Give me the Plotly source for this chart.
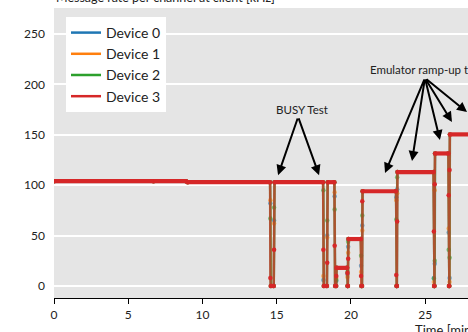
import plotly.graph_objects as go

# ---- data (minutes, kHz) ----
time_min = [0, 6.7, 8.9, 9.0,
            14.55, 14.57, 14.6, 14.8, 14.82, 14.85,
            18.12, 18.14, 18.17, 18.38, 18.40, 18.43,
            18.88, 18.90, 18.93, 19.00, 19.01, 19.03,
            19.74, 19.76, 19.77, 19.79, 19.81, 19.83,
            20.66, 20.68, 20.70, 20.74, 20.76, 20.78,
            23.03, 23.05, 23.07, 23.09, 23.11, 23.13,
            25.56, 25.58, 25.60, 25.62, 25.64, 25.66,
            26.56, 26.58, 26.60, 26.62, 26.64, 26.66,
            28.5]

device0 = [104, 104, 104, 103,
           103, 82, 0, 0, 65, 103,
           103, 6, 0, 0, 50, 103,
           103, 89, 0, 0, 5, 18,
           18, 12, 0, 0, 39, 46.6,
           46.6, 20, 0, 0, 60, 94,
           94, 88, 0, 0, 96, 113,
           113, 8, 0, 0, 22, 131.5,
           131.5, 53, 0, 0, 8, 150.4,
           150.4]
device1 = [104, 104, 104, 103,
           103, 85, 0, 0, 62, 103,
           103, 10, 0, 0, 48, 103,
           103, 93, 0, 0, 8, 18,
           18, 9, 0, 0, 33, 46.6,
           46.6, 14, 0, 0, 55, 94,
           94, 85, 0, 0, 92, 113,
           113, 4, 0, 0, 95, 131.5,
           131.5, 57, 0, 0, 4, 150.4,
           150.4]
device2 = [104, 104, 104, 103,
           103, 67, 0, 0, 78, 103,
           103, 95, 0, 0, 65, 103,
           103, 76, 0, 0, 6, 18,
           18, 14, 0, 0, 44, 46.6,
           46.6, 30, 0, 0, 70, 94,
           94, 66, 0, 0, 108, 113,
           113, 7.5, 0, 0, 25, 131.5,
           131.5, 36, 0, 0, 28, 150.4,
           150.4]
device3 = [104, 104, 104, 103,
           103, 8, 0, 0, 36, 103,
           103, 36, 0, 0, 23, 103,
           103, 40, 0, 0, 10, 18,
           18, 13, 0, 0, 27, 46.6,
           46.6, 10, 0, 0, 84, 94,
           94, 11, 0, 0, 64, 113,
           113, 54, 0, 0, 101, 131.5,
           131.5, 90, 0, 0, 115, 150.4,
           150.4]

device_names = ["Device 0", "Device 1", "Device 2", "Device 3"]
device_values = [device0, device1, device2, device3]
colors = [(31, 119, 180), (255, 127, 14), (44, 160, 44), (214, 39, 40)]

x_ticks = [0, 5, 10, 15, 20, 25]
y_ticks = [0, 50, 100, 150, 200, 250]

fig = go.Figure()

for name, vals, (r, g, b) in zip(device_names, device_values, colors):
    is_top = name == "Device 3"
    fig.add_trace(go.Scatter(
        x=time_min, y=vals, mode="lines+markers", showlegend=False,
        line=dict(color=f"rgba({r},{g},{b},0.62)", width=2.4),
        marker=dict(size=4.5, color=f"rgba({r},{g},{b},{1.0 if is_top else 0.6})",
                    line=dict(width=0)),
        hoverinfo="skip"))

# plateau band of top series (consecutive equal samples)
px, py = [], []
for i in range(len(time_min) - 1):
    if abs(device3[i + 1] - device3[i]) <= 2:
        px += [time_min[i], time_min[i + 1], None]
        py += [device3[i], device3[i + 1], None]
fig.add_trace(go.Scatter(x=px, y=py, mode="lines", showlegend=False,
                         line=dict(color="rgb(214,39,40)", width=4.2),
                         hoverinfo="skip"))

# legend entries
for name, (r, g, b) in zip(device_names, colors):
    fig.add_trace(go.Scatter(x=[None], y=[None], mode="lines", name=name,
                             line=dict(color=f"rgb({r},{g},{b})", width=2.5)))

ann = []
ann.append(dict(text="Message rate per channel at client [kHz]", xref="paper", yref="paper",
                x=0, y=1.0345, xanchor="left", yanchor="middle", showarrow=False,
                font=dict(size=12.5, color="#222")))
ann.append(dict(text="Time [min]", xref="paper", yref="paper", x=0.868, y=-0.112,
                xanchor="left", yanchor="middle", showarrow=False,
                font=dict(size=13, color="#222")))
ann.append(dict(text="BUSY Test", xref="x", yref="y", x=14.82, y=175.6,
                xanchor="left", yanchor="middle", showarrow=False,
                font=dict(size=11.5, color="#222")))
ann.append(dict(text="Emulator ramp-up test", xref="x", yref="y", x=21.16, y=214.3,
                xanchor="left", yanchor="middle", showarrow=False,
                font=dict(size=11.5, color="#222")))

arrow_style = dict(text="", showarrow=True, arrowhead=2, arrowsize=1, arrowwidth=2,
                   arrowcolor="black", standoff=0, startstandoff=0)
for tx, ty in [(15.09, 110), (17.85, 110)]:
    ann.append(dict(xref="x", yref="y", x=tx, y=ty, axref="x", ayref="y",
                    ax=16.44, ay=167.7, **arrow_style))
for tx, ty in [(22.29, 112.1), (24.11, 124), (25.99, 144.8), (26.8, 162.7)]:
    ann.append(dict(xref="x", yref="y", x=tx, y=ty, axref="x", ayref="y",
                    ax=24.98, ay=206.3, **arrow_style))
ann.append(dict(xref="paper", yref="paper", x=1.058, y=0.641, ax=-67, ay=-34,
                **arrow_style))

fig.update_layout(
    width=468, height=332,
    margin=dict(l=54, r=0, t=8, b=34, autoexpand=False),
    paper_bgcolor="white", plot_bgcolor="#e5e5e5",
    font=dict(family="Lato", size=12, color="#222"),
    showlegend=True,
    legend=dict(x=0.029, y=0.969, xanchor="left", yanchor="top",
                bgcolor="white", borderwidth=0, font=dict(size=14),
                itemwidth=30),
    annotations=ann,
)
fig.update_xaxes(range=[0, 27.88], tickvals=x_ticks, showgrid=False, zeroline=False,
                 showline=True, linecolor="black", linewidth=1.2,
                 ticks="outside", ticklen=5, tickcolor="black", tickwidth=1.2,
                 tickfont=dict(size=12), automargin=False)
fig.update_yaxes(range=[-11.9, 275.8], tickvals=y_ticks, showgrid=True,
                 gridcolor="white", gridwidth=1.6, zeroline=False, showline=False,
                 ticks="", ticklabelstandoff=8, tickfont=dict(size=12), automargin=False)

fig.write_html("out.html", config={"displayModeBar": False},
               post_script="document.body.style.margin='0';document.body.style.overflow='hidden';")
